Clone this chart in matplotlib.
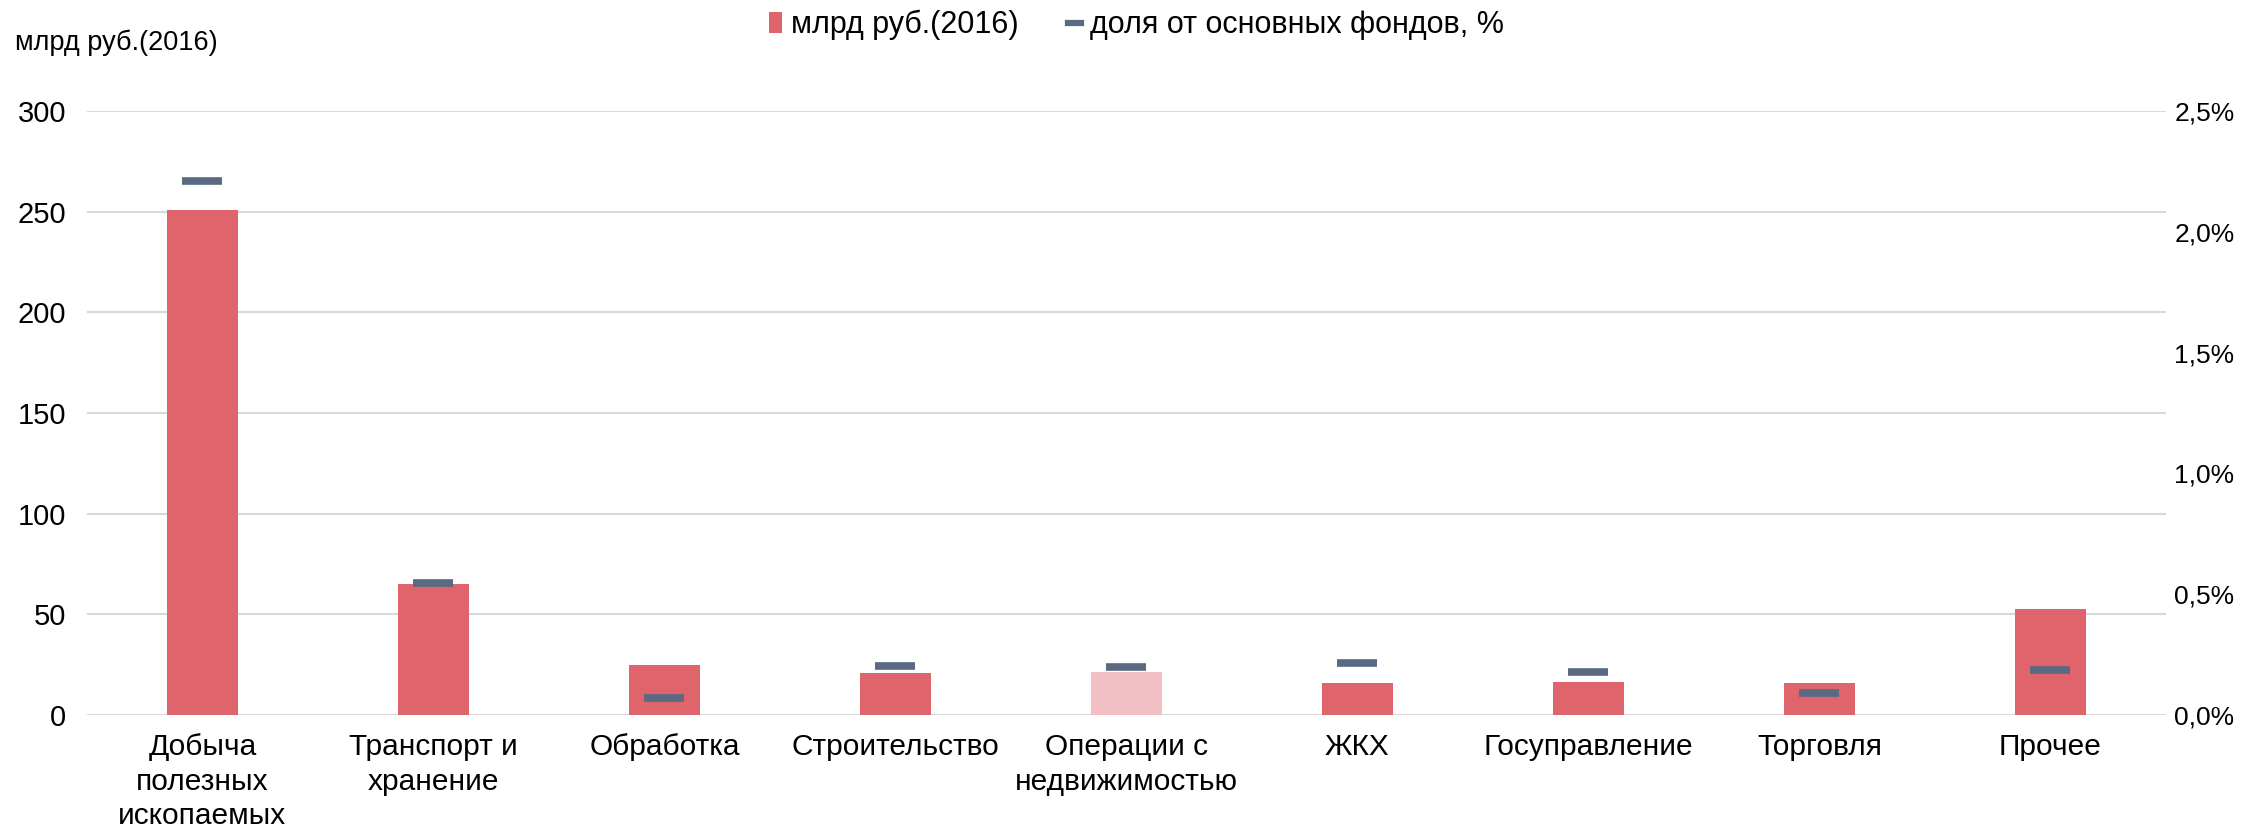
import matplotlib.pyplot as plt
from matplotlib.patches import Patch
from matplotlib.lines import Line2D
from matplotlib.ticker import FuncFormatter
import numpy as np

plt.rcParams['font.family'] = ['Liberation Sans', 'DejaVu Sans']

# --- данные ---
categories = ["Добыча\nполезных\nископаемых", "Транспорт и\nхранение", "Обработка",
              "Строительство", "Операции с\nнедвижимостью", "ЖКХ", "Госуправление",
              "Торговля", "Прочее"]
values_bln = [251, 65, 25, 21, 21.5, 16, 16.5, 16, 52.5]
share_pct = [2.21, 0.545, 0.072, 0.203, 0.197, 0.215, 0.18, 0.09, 0.185]
left_ticks = [0, 50, 100, 150, 200, 250, 300]
right_ticks = [0.0, 0.5, 1.0, 1.5, 2.0, 2.5]

RED = '#E0646B'
PINK = '#F2C0C4'
DASH = '#5A6A82'
GRID = '#D9D9D9'

fig = plt.figure(figsize=(22.64, 8.31), dpi=100)
ax = fig.add_axes([0.0384, 0.1396, 0.9183, 0.7268])
ax2 = ax.twinx()

x = np.arange(len(categories))
colors = [RED] * len(categories)
colors[4] = PINK
ax.bar(x, values_bln, width=0.31, color=colors, zorder=2)

ax2.plot(x, share_pct, linestyle='none', marker='_', markersize=29,
         markeredgewidth=5.5, color=DASH, zorder=3)

ax.set_xlim(-0.5, len(categories) - 0.5)
ax.set_ylim(0, 300)
ax.set_yticks(left_ticks)
ax2.set_ylim(0, 2.5)
ax2.set_yticks(right_ticks)
ax2.yaxis.set_major_formatter(FuncFormatter(lambda v, p: f"{v:.1f}%".replace('.', ',')))

ax.set_xticks(x)
ax.set_xticklabels(categories, linespacing=1.3)
ax.tick_params(axis='x', length=0, pad=13, labelsize=21.5)
ax.tick_params(axis='y', length=0, pad=15, labelsize=21)
ax2.tick_params(axis='y', length=0, pad=6, labelsize=19)

ax.grid(axis='y', color=GRID, linewidth=1.5, zorder=0)
ax.set_axisbelow(True)
for a in (ax, ax2):
    for s in a.spines.values():
        s.set_visible(False)

fig.text(0.0065, 1 - 43 / 831, "млрд руб.(2016)", fontsize=19.5, va='center', ha='left')

handles = [Patch(facecolor=RED, edgecolor='none'),
           Line2D([0], [0], color=DASH, linewidth=4.5)]
fig.legend(handles, ["млрд руб.(2016)", "доля от основных фондов, %"],
           loc='center', bbox_to_anchor=(0.502, 1 - 25 / 831), ncol=2, frameon=False,
           fontsize=22, handlelength=0.42, handleheight=0.65, handletextpad=0.3,
           columnspacing=1.6)

fig.savefig("out.png", dpi=100)
